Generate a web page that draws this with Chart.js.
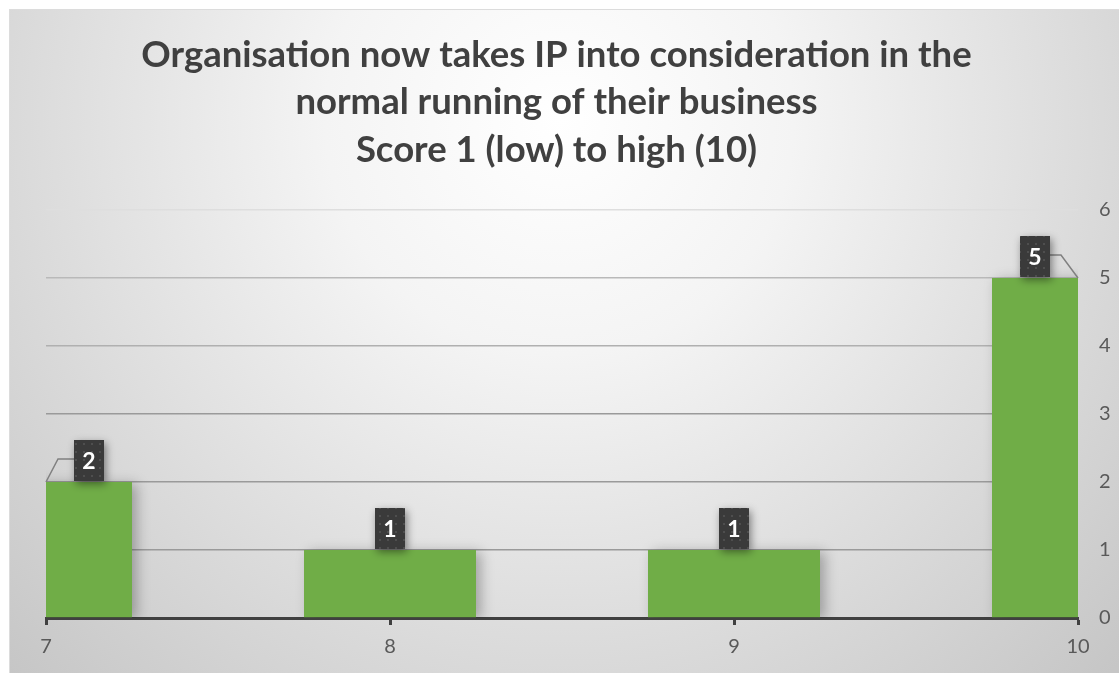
<!DOCTYPE html>
<html>
<head>
<meta charset="utf-8">
<script src="https://cdn.jsdelivr.net/npm/chart.js@4.4.1/dist/chart.umd.min.js"></script>
<style>
  html, body { margin: 0; padding: 0; background: #ffffff; }
  #wrap { width: 1119px; height: 673px; }
</style>
</head>
<body>
<div id="wrap"><canvas id="scoreChart" width="1119" height="673"></canvas></div>
<script>
// chart data
const scores = [7, 8, 9, 10];
const counts = [2, 1, 1, 5];
const yMin = 0;
const yMax = 6;
const titleLines = [
  "Organisation now takes IP into consideration in the",
  "normal running of their business",
  "Score 1 (low) to high (10)",
];

const FONT = "Lato, 'Open Sans', sans-serif";

// Background panel with soft radial shading
const backgroundPlugin = {
  id: "panelBackground",
  beforeDraw(chart) {
    const ctx = chart.ctx;
    const w = chart.width;
    const h = chart.height;
    ctx.save();
    ctx.fillStyle = "#ffffff";
    ctx.fillRect(0, 0, w, h);
    const g = ctx.createRadialGradient(w / 2, 120, 0, w / 2, 120, 780);
    g.addColorStop(0, "#ffffff");
    g.addColorStop(0.3, "#f4f4f4");
    g.addColorStop(1, "#c6c6c6");
    ctx.fillStyle = g;
    ctx.fillRect(9, 9, w - 9, h - 9);
    ctx.strokeStyle = "#dcdcdc";
    ctx.lineWidth = 1;
    ctx.strokeRect(9.5, 9.5, w - 9, h - 9);
    ctx.restore();
  },
};

// Title centred on the whole panel (the built-in one centres on the padded box)
const titlePlugin = {
  id: "panelTitle",
  afterDraw(chart) {
    const ctx = chart.ctx;
    ctx.save();
    ctx.fillStyle = "#404040";
    ctx.font = "bold 36.5px " + FONT;
    ctx.textAlign = "center";
    ctx.textBaseline = "middle";
    titleLines.forEach((line, i) => {
      ctx.fillText(line, chart.width / 2 - 3, 55 + i * 47.5);
    });
    ctx.restore();
  },
};

// Soft shadow behind bars
const barShadowPlugin = {
  id: "barShadow",
  beforeDatasetsDraw(chart) {
    const ctx = chart.ctx;
    ctx.save();
    ctx.shadowColor = "rgba(0,0,0,0.28)";
    ctx.shadowBlur = 12;
    ctx.shadowOffsetX = 5;
    ctx.shadowOffsetY = 2;
  },
  afterDatasetsDraw(chart) {
    chart.ctx.restore();
  },
};

// Dark callout labels above each bar
function makeDotPattern(ctx) {
  const c = document.createElement("canvas");
  c.width = 8;
  c.height = 8;
  const p = c.getContext("2d");
  p.fillStyle = "#3a3a3a";
  p.fillRect(0, 0, 8, 8);
  p.fillStyle = "#4e4e4e";
  p.fillRect(3, 3, 2, 2);
  return ctx.createPattern(c, "repeat");
}

const calloutPlugin = {
  id: "callouts",
  afterDatasetsDraw(chart) {
    const ctx = chart.ctx;
    const area = chart.chartArea;
    const meta = chart.getDatasetMeta(0);
    const pattern = makeDotPattern(ctx);
    const boxW = 30;
    const boxH = 41;
    meta.data.forEach((bar, i) => {
      const half = bar.width / 2;
      const left = Math.max(bar.x - half, area.left);
      const right = Math.min(bar.x + half, area.right);
      const cx = (left + right) / 2;
      const bottom = bar.y - 1;
      const bx = cx - boxW / 2;
      const by = bottom - boxH;
      const midY = by + 19;

      ctx.save();
      ctx.strokeStyle = "#808080";
      ctx.lineWidth = 1.5;
      if (bar.x - half < area.left) {
        ctx.beginPath();
        ctx.moveTo(area.left, bar.y);
        ctx.lineTo(area.left + 12, midY);
        ctx.lineTo(bx, midY);
        ctx.stroke();
      } else if (bar.x + half > area.right) {
        ctx.beginPath();
        ctx.moveTo(area.right, bar.y);
        ctx.lineTo(area.right - 17, midY);
        ctx.lineTo(bx + boxW, midY);
        ctx.stroke();
      }
      ctx.shadowColor = "rgba(0,0,0,0.45)";
      ctx.shadowBlur = 8;
      ctx.shadowOffsetX = 2;
      ctx.shadowOffsetY = 3;
      ctx.fillStyle = pattern;
      ctx.fillRect(bx, by, boxW, boxH);
      ctx.shadowColor = "transparent";
      ctx.fillStyle = "#ffffff";
      ctx.font = "bold 23px " + FONT;
      ctx.textAlign = "center";
      ctx.textBaseline = "middle";
      ctx.fillText(String(counts[i]), cx, by + boxH / 2 + 1);
      ctx.restore();
    });
  },
};

function gridColor(ctx) {
  const v = ctx.tick ? ctx.tick.value : 0;
  if (v >= 6) return "#dedede";
  if (v >= 5) return "#b9b9b9";
  if (v >= 4) return "#b0b0b0";
  return "#9a9a9a";
}

new Chart(document.getElementById("scoreChart"), {
  type: "bar",
  data: {
    datasets: [
      {
        label: "Count",
        data: scores.map((s, i) => ({ x: s, y: counts[i] })),
        backgroundColor: "#70ad47",
        borderWidth: 0,
        barPercentage: 0.5,
        categoryPercentage: 1,
      },
    ],
  },
  options: {
    responsive: false,
    animation: false,
    layout: { padding: { left: 46, right: 0, top: 210, bottom: 0 } },
    plugins: {
      legend: { display: false },
      tooltip: { enabled: false },
      title: { display: false },
    },
    scales: {
      x: {
        type: "linear",
        min: scores[0],
        max: scores[scores.length - 1],
        offset: false,
        grid: {
          offset: false,
          drawOnChartArea: false,
          drawTicks: true,
          tickLength: 7,
          tickWidth: 3,
          tickColor: "#404040",
        },
        border: { display: true, color: "#404040", width: 3 },
        ticks: {
          stepSize: 1,
          color: "#595959",
          padding: 10,
          font: { family: FONT, size: 20 },
        },
        afterFit(scale) {
          scale.height = 55;
        },
      },
      y: {
        position: "right",
        min: yMin,
        max: yMax,
        grid: {
          drawTicks: false,
          color: gridColor,
          lineWidth: 1.5,
        },
        border: { display: false },
        ticks: {
          stepSize: 1,
          color: "#595959",
          padding: 21,
          font: { family: FONT, size: 20 },
        },
        afterFit(scale) {
          scale.width = 41;
        },
      },
    },
  },
  plugins: [backgroundPlugin, barShadowPlugin, calloutPlugin, titlePlugin],
});
</script>
</body>
</html>
